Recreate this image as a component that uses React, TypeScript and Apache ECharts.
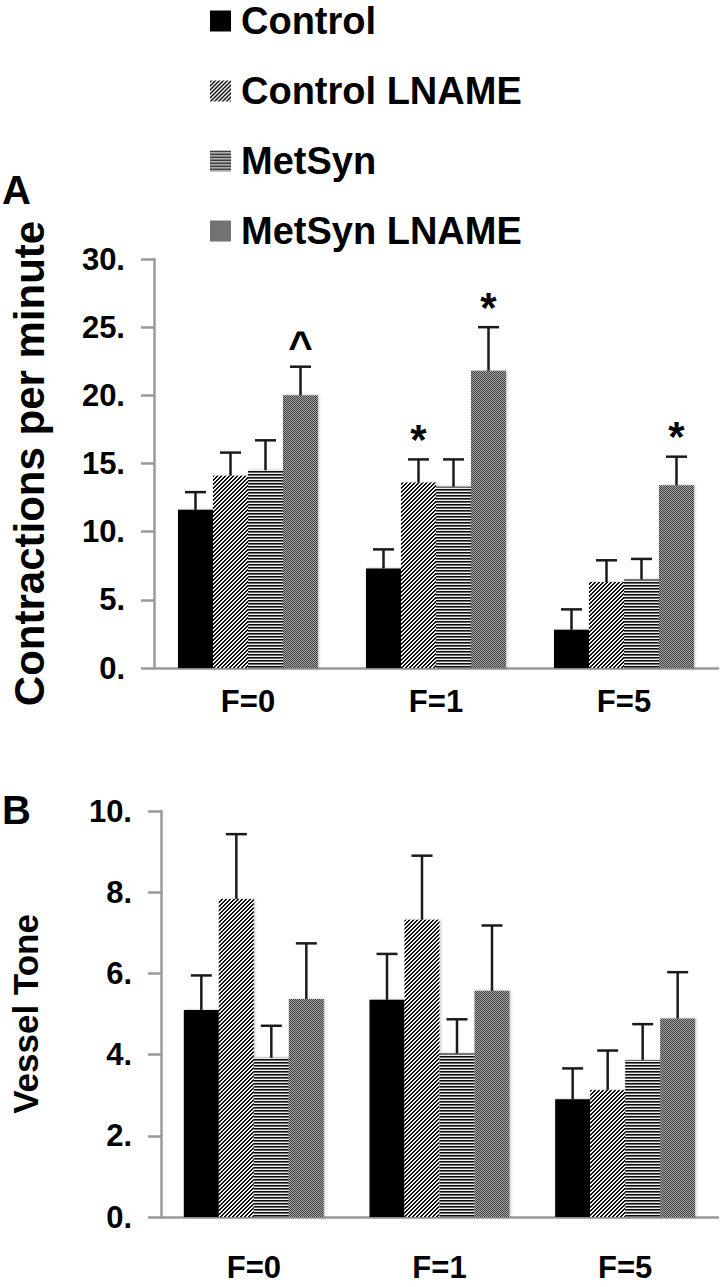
import React, { useEffect, useRef } from "react";
import * as echarts from "echarts";

const categories = ["F=0", "F=1", "F=5"];
const seriesNames = ["Control", "Control LNAME", "MetSyn", "MetSyn LNAME"];

// Panel A: contractions per minute (mean, SEM)
const contrControl = [11.6, 7.3, 2.8];
const contrControlErr = [1.3, 1.4, 1.5];
const contrControlLname = [14.1, 13.6, 6.3];
const contrControlLnameErr = [1.7, 1.7, 1.6];
const contrMetSyn = [14.5, 13.3, 6.5];
const contrMetSynErr = [2.2, 2.0, 1.5];
const contrMetSynLname = [20.0, 21.8, 13.4];
const contrMetSynLnameErr = [2.1, 3.2, 2.1];

// Panel B: vessel tone (mean, SEM)
const toneControl = [5.1, 5.35, 2.9];
const toneControlErr = [0.85, 1.13, 0.76];
const toneControlLname = [7.83, 7.32, 3.13];
const toneControlLnameErr = [1.6, 1.58, 0.97];
const toneMetSyn = [3.92, 4.03, 3.87];
const toneMetSynErr = [0.79, 0.84, 0.88];
const toneMetSynLname = [5.37, 5.57, 4.89];
const toneMetSynLnameErr = [1.37, 1.61, 1.14];

// significance marks (panel A)
const notesControl = ["", "", ""];
const notesControlLname = ["", "*", ""];
const notesMetSyn = ["", "", ""];
const notesMetSynLname = ["^", "*", "*"];

const yTicksA = { min: 0, max: 30, interval: 5 };
const yTicksB = { min: 0, max: 10, interval: 2 };

const FONT = "'Liberation Sans', Arial, Helvetica, sans-serif";
const BAR_W = 35;
const CAP = 10.5;

function makePattern(w: number, h: number, fn: (x: number, y: number) => string) {
  const c = document.createElement("canvas");
  c.width = w;
  c.height = h;
  const ctx = c.getContext("2d")!;
  for (let y = 0; y < h; y++) {
    for (let x = 0; x < w; x++) {
      ctx.fillStyle = fn(x, y);
      ctx.fillRect(x, y, 1, 1);
    }
  }
  return { image: c, repeat: "repeat" } as any;
}

export default function App() {
  const ref = useRef<HTMLDivElement>(null);

  useEffect(() => {
    if (!ref.current) return;
    const chart = echarts.init(ref.current, null, { renderer: "svg" });

    const fills = [
      "#000000",
      makePattern(4, 4, (x, y) => (((x + y) % 4) < 2 ? "#111111" : "#f4f4f4")),
      makePattern(1, 3, (_x, y) => (y === 0 ? "#111111" : y === 1 ? "#6a6a6a" : "#eeeeee")),
      makePattern(2, 2, (x, y) => ((x + y) % 2 === 0 ? "#3c3c3c" : "#a8a8a8")),
    ];

    const meansA = [contrControl, contrControlLname, contrMetSyn, contrMetSynLname];
    const errsA = [contrControlErr, contrControlLnameErr, contrMetSynErr, contrMetSynLnameErr];
    const meansB = [toneControl, toneControlLname, toneMetSyn, toneMetSynLname];
    const errsB = [toneControlErr, toneControlLnameErr, toneMetSynErr, toneMetSynLnameErr];
    const notesA = [notesControl, notesControlLname, notesMetSyn, notesMetSynLname];

    const errSeries = (
      idx: number,
      grid: number,
      means: number[],
      errs: number[],
      notes: string[] | null
    ) => ({
      type: "custom",
      name: "err" + grid + "_" + idx,
      xAxisIndex: grid,
      yAxisIndex: grid,
      z: 5,
      silent: true,
      data: means.map((m, i) => [i, m, errs[i]]),
      renderItem: (params: any, api: any) => {
        const c = api.value(0);
        const v = api.value(1);
        const e = api.value(2);
        const p0 = api.coord([c, v]);
        const p1 = api.coord([c, v + e]);
        const x = p0[0] + (idx - 1.5) * BAR_W;
        const children: any[] = [
          {
            type: "line",
            shape: { x1: x, y1: p0[1], x2: x, y2: p1[1] },
            style: { stroke: "#1a1a1a", lineWidth: 2.5 },
          },
          {
            type: "line",
            shape: { x1: x - CAP, y1: p1[1], x2: x + CAP, y2: p1[1] },
            style: { stroke: "#1a1a1a", lineWidth: 2.5 },
          },
        ];
        const note = notes ? notes[params.dataIndex] : "";
        if (note) {
          children.push({
            type: "text",
            x: x,
            y: p1[1] - 20,
            style: {
              text: note,
              align: "center",
              verticalAlign: "middle",
              fontSize: 42,
              fontWeight: "bold",
              fontFamily: FONT,
              fill: "#000",
            },
          });
        }
        return { type: "group", children };
      },
    });

    const barSeries: any[] = [];
    const customSeries: any[] = [];
    [0, 1].forEach((g) => {
      const means = g === 0 ? meansA : meansB;
      const errs = g === 0 ? errsA : errsB;
      seriesNames.forEach((name, i) => {
        barSeries.push({
          type: "bar",
          name,
          xAxisIndex: g,
          yAxisIndex: g,
          barWidth: BAR_W,
          barGap: "0%",
          z: 2,
          itemStyle: {
            color: fills[i],
            shadowColor: "rgba(0,0,0,0.25)",
            shadowBlur: 3,
            shadowOffsetX: 1,
          },
          data: means[i],
        });
        customSeries.push(errSeries(i, g, means[i], errs[i], g === 0 ? notesA[i] : null));
      });
    });

    const axisLineStyle = { color: "#9a9a9a", width: 2.5 };

    const xAxisCommon = (grid: number, margin: number) => ({
      type: "category",
      gridIndex: grid,
      data: categories,
      axisLine: { show: true, lineStyle: axisLineStyle },
      axisTick: { show: false },
      axisLabel: {
        margin,
        fontSize: 31,
        fontWeight: "bold",
        fontFamily: FONT,
        color: "#000",
      },
    });

    const yAxisCommon = (grid: number, ticks: any, name: string, nameSize: number, gap: number) => ({
      type: "value",
      gridIndex: grid,
      min: ticks.min,
      max: ticks.max,
      interval: ticks.interval,
      name,
      nameLocation: "middle",
      nameRotate: 90,
      nameGap: gap,
      nameTextStyle: {
        fontSize: nameSize,
        fontWeight: "bold",
        fontFamily: FONT,
        color: "#000",
      },
      axisLine: { show: true, lineStyle: axisLineStyle },
      axisTick: { show: true, length: 13, lineStyle: axisLineStyle },
      splitLine: { show: false },
      axisLabel: {
        margin: 29,
        fontSize: 31,
        fontWeight: "bold",
        fontFamily: FONT,
        color: "#000",
        formatter: (v: number) => v + ".",
      },
    });

    chart.setOption({
      animation: false,
      backgroundColor: "#ffffff",
      legend: {
        data: seriesNames,
        orient: "vertical",
        left: 210,
        top: 2,
        padding: 0,
        itemWidth: 21,
        itemHeight: 21,
        itemGap: 32,
        icon: "rect",
        selectedMode: false,
        textStyle: {
          fontSize: 38,
          fontWeight: "bold",
          fontFamily: FONT,
          color: "#000",
          padding: [0, 0, 0, 5],
        },
      },
      grid: [
        { left: 142, top: 259, width: 576, height: 409 },
        { left: 142, top: 811, width: 576, height: 406 },
      ],
      xAxis: [xAxisCommon(0, 18), xAxisCommon(1, 35)],
      yAxis: [
        yAxisCommon(0, yTicksA, "Contractions per minute", 42, 104),
        yAxisCommon(1, yTicksB, "Vessel Tone", 35, 118),
      ],
      graphic: [
        {
          type: "text",
          left: 2,
          top: 170,
          style: { text: "A", fontSize: 40, fontWeight: "bold", fontFamily: FONT, fill: "#000" },
        },
        {
          type: "text",
          left: 2,
          top: 790,
          style: { text: "B", fontSize: 40, fontWeight: "bold", fontFamily: FONT, fill: "#000" },
        },
      ],
      series: [...barSeries, ...customSeries],
    });

    return () => chart.dispose();
  }, []);

  return (
    <div
      ref={ref}
      style={{ position: "absolute", left: 0, top: 0, width: 720, height: 1287 }}
    />
  );
}
